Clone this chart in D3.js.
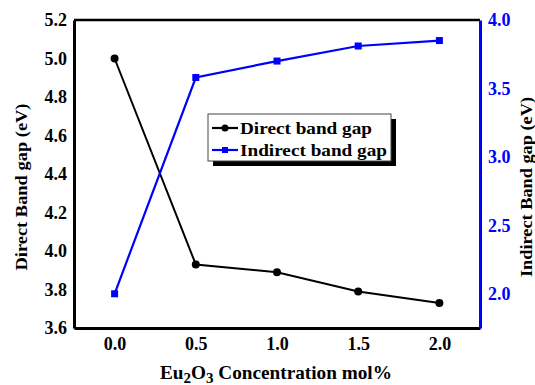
<!DOCTYPE html>
<html>
<head>
<meta charset="utf-8">
<script src="https://cdn.jsdelivr.net/npm/d3@7"></script>
<style>
  html, body { margin: 0; padding: 0; background: #fff; }
  svg { display: block; }
  svg text { font-family: "Liberation Serif", "Times New Roman", serif; font-weight: bold; }
</style>
</head>
<body>
<svg id="chart" width="535" height="385"></svg>
<script>
// Eu2O3 concentration (mol%)
const concentration = [0.0, 0.5, 1.0, 1.5, 2.0];
// Direct band gap (eV), left axis
const directGap = [5.0, 3.93, 3.89, 3.79, 3.73];
// Indirect band gap (eV), right axis
const indirectGap = [2.0, 3.58, 3.70, 3.81, 3.85];

const xTicks = [0.0, 0.5, 1.0, 1.5, 2.0];
const leftTicks = [3.6, 3.8, 4.0, 4.2, 4.4, 4.6, 4.8, 5.0, 5.2];
const rightTicks = [2.0, 2.5, 3.0, 3.5, 4.0];

const BLUE = "#0000ff";
const SERIF = '"Liberation Serif", "Times New Roman", serif';
const svg = d3.select("#chart");

const plot = { left: 74, right: 480, top: 20, bottom: 328 };

const x = d3.scaleLinear().domain([-0.25, 2.25]).range([plot.left, plot.right]);
const yL = d3.scaleLinear().domain([3.6, 5.2]).range([plot.bottom, plot.top]);
const yR = d3.scaleLinear().domain([1.75, 4.0]).range([plot.bottom, plot.top]);

function styleAxis(g, color, lineWidth) {
  g.attr("font-family", SERIF).attr("font-size", 18).attr("font-weight", "bold");
  g.select(".domain").attr("stroke", color).attr("stroke-width", lineWidth);
  g.selectAll(".tick text")
    .style("font-family", SERIF)
    .style("font-weight", "bold")
    .style("font-size", "18px")
    .attr("fill", color);
}

// top frame line
svg.append("line")
  .attr("x1", plot.left).attr("x2", plot.right)
  .attr("y1", plot.top).attr("y2", plot.top)
  .attr("stroke", "#000").attr("stroke-width", 2.5);

// bottom axis
svg.append("g")
  .attr("transform", `translate(0,${plot.bottom})`)
  .call(d3.axisBottom(x).tickValues(xTicks).tickFormat(d3.format(".1f")).tickSize(0).tickPadding(9))
  .call(g => styleAxis(g, "#000", 3));

// left axis
svg.append("g")
  .attr("transform", `translate(${plot.left},0)`)
  .call(d3.axisLeft(yL).tickValues(leftTicks).tickFormat(d3.format(".1f")).tickSize(0).tickPadding(7))
  .call(g => styleAxis(g, "#000", 3));

// right axis
svg.append("g")
  .attr("transform", `translate(${plot.right},0)`)
  .call(d3.axisRight(yR).tickValues(rightTicks).tickFormat(d3.format(".1f")).tickSize(0).tickPadding(8))
  .call(g => styleAxis(g, BLUE, 3));

// series
const directData = concentration.map((c, i) => ({ x: c, y: directGap[i] }));
const indirectData = concentration.map((c, i) => ({ x: c, y: indirectGap[i] }));

svg.append("path")
  .datum(directData)
  .attr("fill", "none").attr("stroke", "#000").attr("stroke-width", 2)
  .attr("d", d3.line().x(d => x(d.x)).y(d => yL(d.y)));

svg.append("path")
  .datum(indirectData)
  .attr("fill", "none").attr("stroke", BLUE).attr("stroke-width", 2.2)
  .attr("d", d3.line().x(d => x(d.x)).y(d => yR(d.y)));

svg.selectAll("circle.direct")
  .data(directData).enter().append("circle")
  .attr("class", "direct")
  .attr("cx", d => x(d.x)).attr("cy", d => yL(d.y)).attr("r", 4)
  .attr("fill", "#000");

svg.selectAll("rect.indirect")
  .data(indirectData).enter().append("rect")
  .attr("class", "indirect")
  .attr("x", d => x(d.x) - 3.5).attr("y", d => yR(d.y) - 3.5)
  .attr("width", 7).attr("height", 7)
  .attr("fill", BLUE);

// legend
const legend = svg.append("g");
const lg = { x: 208, y: 114, w: 183, h: 47 };
legend.append("rect")
  .attr("x", lg.x + 5).attr("y", lg.y + 5).attr("width", lg.w).attr("height", lg.h)
  .attr("fill", "#000");
legend.append("rect")
  .attr("x", lg.x).attr("y", lg.y).attr("width", lg.w).attr("height", lg.h)
  .attr("fill", "#fff").attr("stroke", "#444").attr("stroke-width", 1);

const legendItems = [
  { label: "Direct band gap", color: "#000", shape: "circle", cy: 128, len: 132 },
  { label: "Indirect band gap", color: BLUE, shape: "square", cy: 150, len: 147 }
];
legendItems.forEach(it => {
  legend.append("line")
    .attr("x1", 212).attr("x2", 238).attr("y1", it.cy).attr("y2", it.cy)
    .attr("stroke", it.color).attr("stroke-width", 2.2);
  if (it.shape === "circle") {
    legend.append("circle").attr("cx", 225).attr("cy", it.cy).attr("r", 3.5).attr("fill", it.color);
  } else {
    legend.append("rect").attr("x", 222).attr("y", it.cy - 3).attr("width", 6).attr("height", 6).attr("fill", it.color);
  }
  legend.append("text")
    .attr("x", 240).attr("y", it.cy + 5.5)
    .attr("font-size", 17)
    .attr("textLength", it.len).attr("lengthAdjust", "spacingAndGlyphs")
    .attr("fill", "#000")
    .text(it.label);
});

// axis titles
svg.append("text")
  .attr("transform", "translate(27,187) rotate(-90)")
  .attr("text-anchor", "middle")
  .attr("font-size", 17)
  .attr("textLength", 167).attr("lengthAdjust", "spacingAndGlyphs")
  .attr("fill", "#000")
  .text("Direct Band gap (eV)");

svg.append("text")
  .attr("transform", "translate(532,187) rotate(-90)")
  .attr("text-anchor", "middle")
  .attr("font-size", 17)
  .attr("textLength", 180).attr("lengthAdjust", "spacingAndGlyphs")
  .attr("fill", "#000")
  .text("Indirect Band gap (eV)");

const xt = svg.append("text")
  .attr("x", 160).attr("y", 379)
  .attr("font-size", 18)
  .attr("fill", "#000");
xt.append("tspan").text("Eu");
xt.append("tspan").attr("font-size", 14).attr("dy", 4).text("2");
xt.append("tspan").attr("dy", -4).text("O");
xt.append("tspan").attr("font-size", 14).attr("dy", 4).text("3");
xt.append("tspan").attr("dy", -4).text(" Concentration mol%");
// stretch the title to span its full width
const xtWidth = xt.node().getComputedTextLength();
xt.attr("transform", `translate(160,0) scale(${232 / xtWidth},1) translate(-160,0)`);
</script>
</body>
</html>
